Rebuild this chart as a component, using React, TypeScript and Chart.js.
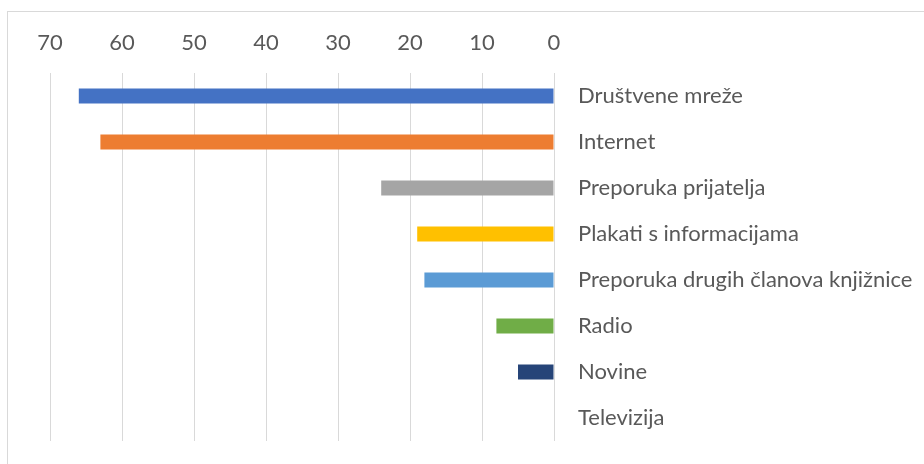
import React, { useEffect, useRef } from "react";
import { Chart, registerables } from "chart.js";

Chart.register(...registerables);

const categories = [
  "Društvene mreže",
  "Internet",
  "Preporuka prijatelja",
  "Plakati s informacijama",
  "Preporuka drugih članova knjižnice",
  "Radio",
  "Novine",
  "Televizija",
];
const values = [66, 63, 24, 19, 18, 8, 5, 0];
const barColors = ["#4472C4", "#ED7D31", "#A5A5A5", "#FFC000", "#5B9BD5", "#70AD47", "#264478", "#7F6000"];
const xMin = 0;
const xMax = 70;
const xStep = 10;

export default function App() {
  const ref = useRef<HTMLCanvasElement | null>(null);
  useEffect(() => {
    if (!ref.current) return;
    const chart = new Chart(ref.current, {
      type: "bar",
      data: {
        labels: categories,
        datasets: [
          {
            data: values,
            backgroundColor: barColors,
            barPercentage: 0.65,
            categoryPercentage: 0.5,
          },
        ],
      },
      options: {
        indexAxis: "y",
        animation: false,
        responsive: false,
        maintainAspectRatio: false,
        layout: { padding: { left: 50, right: 0, top: 0, bottom: 23 } },
        plugins: { legend: { display: false }, tooltip: { enabled: false } },
        scales: {
          x: {
            position: "top",
            reverse: true,
            min: xMin,
            max: xMax,
            ticks: {
              stepSize: xStep,
              color: "#595959",
              font: { family: "Lato", size: 22 },
              padding: 17,
            },
            grid: { color: "#d9d9d9", lineWidth: 1, drawTicks: false },
            border: { display: false },
            afterFit: (s: any) => {
              s.height = 73;
            },
          },
          y: {
            position: "right",
            ticks: {
              color: "#595959",
              font: { family: "Lato", size: 22 },
              padding: 24,
            },
            grid: { display: false, drawTicks: false },
            border: { display: false },
            afterFit: (s: any) => {
              s.width = 370;
              s.paddingTop = 0;
              s.paddingBottom = 0;
            },
          },
        },
      },
    });
    return () => chart.destroy();
  }, []);
  return (
    <div style={{ position: "fixed", left: 0, top: 0, width: 924, height: 464, background: "#fff", overflow: "hidden" }}>
      <div
        style={{
          position: "absolute",
          left: 7,
          top: 11,
          width: 940,
          height: 480,
          border: "1px solid #d9d9d9",
          boxSizing: "border-box",
        }}
      />
      <canvas ref={ref} width={924} height={464} style={{ position: "absolute", left: 0, top: 0 }} />
    </div>
  );
}
